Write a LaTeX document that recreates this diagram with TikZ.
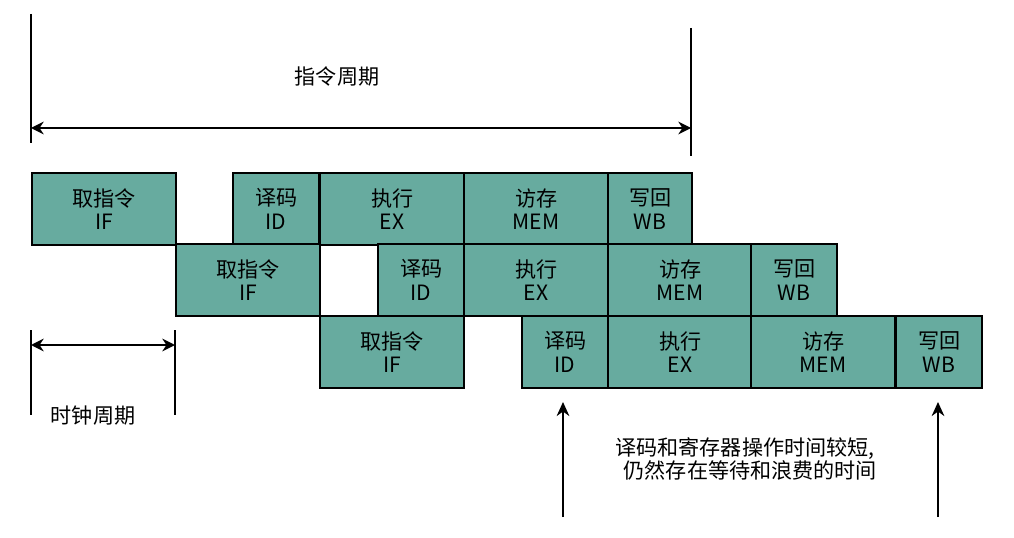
\documentclass[tikz,border=0pt]{standalone}
\usepackage{fontspec}
\setmainfont{Noto Sans CJK SC}
\usetikzlibrary{arrows.meta}
\definecolor{stagefill}{HTML}{67AB9F}
\begin{document}
\begin{tikzpicture}[x=0.025cm, y=-0.025cm,
    lbl/.style={font=\fontsize{15}{17}\selectfont},
    stage/.style={lbl, draw=black, line width=1.6pt, fill=stagefill, anchor=north west,
      minimum height=1.8cm, inner sep=0pt, align=center},
    wide/.style={stage, minimum width=3.6cm},
    narrow/.style={stage, minimum width=2.15cm},
    dimline/.style={line width=1.3pt},
    dimarrow/.style={line width=1.3pt, {Stealth[length=9pt,width=9pt]}-{Stealth[length=9pt,width=9pt]}},
    uparrow/.style={line width=1.3pt, -{Stealth[length=10pt,width=9pt]}}]
  \useasboundingbox (0,0) rectangle (1014,538);
  % instruction 1
  \node[wide] (if1) at (31,172) {取指令\\IF};
  \node[narrow] (id1) at (232,172) {译码\\ID};
  \node[wide] (ex1) at (319,172) {执行\\EX};
  \node[wide] (mem1) at (463,172) {访存\\MEM};
  \node[stage, minimum width=2.1cm] (wb1) at (607,172) {写回\\WB};
  % instruction 2
  \node[wide] (if2) at (175,243) {取指令\\IF};
  \node[narrow] (id2) at (377,243) {译码\\ID};
  \node[wide] (ex2) at (463,243) {执行\\EX};
  \node[wide] (mem2) at (607,243) {访存\\MEM};
  \node[narrow] (wb2) at (750,243) {写回\\WB};
  % instruction 3
  \node[wide] (if3) at (319,315) {取指令\\IF};
  \node[narrow] (id3) at (521,315) {译码\\ID};
  \node[wide] (ex3) at (607,315) {执行\\EX};
  \node[wide] (mem3) at (750,315) {访存\\MEM};
  \node[narrow] (wb3) at (895,315) {写回\\WB};
  % instruction cycle
  \coordinate (ctopl) at (31,14);
  \coordinate (cbotl) at (31,143);
  \coordinate (ctopr) at (691,28);
  \coordinate (cbotr) at (691,156);
  \draw[dimline] (ctopl) -- (cbotl);
  \draw[dimline] (ctopr) -- (cbotr);
  \coordinate (cl) at (31,128);
  \coordinate (cr) at (691,128);
  \draw[dimarrow] (cl) -- (cr);
  \node[lbl] (cyclelbl) at (337,77) {指令周期};
  % clock cycle
  \coordinate (ktopl) at (31,330);
  \coordinate (kbotl) at (31,415);
  \coordinate (ktopr) at (175,330);
  \coordinate (kbotr) at (175,415);
  \draw[dimline] (ktopl) -- (kbotl);
  \draw[dimline] (ktopr) -- (kbotr);
  \coordinate (kl) at (31,345);
  \coordinate (kr) at (175,345);
  \draw[dimarrow] (kl) -- (kr);
  \node[lbl] (clocklbl) at (93,416) {时钟周期};
  % waste markers
  \coordinate (wa) at (563,517);
  \coordinate (wat) at (563,402);
  \coordinate (wb) at (938,517);
  \coordinate (wbt) at (938,402);
  \draw[uparrow] (wa) -- (wat);
  \draw[uparrow] (wb) -- (wbt);
  \node[lbl, align=center] (note) at (745,459) {译码和寄存器操作时间较短,\\\hspace*{0.5em}仍然存在等待和浪费的时间};
\end{tikzpicture}
\end{document}
